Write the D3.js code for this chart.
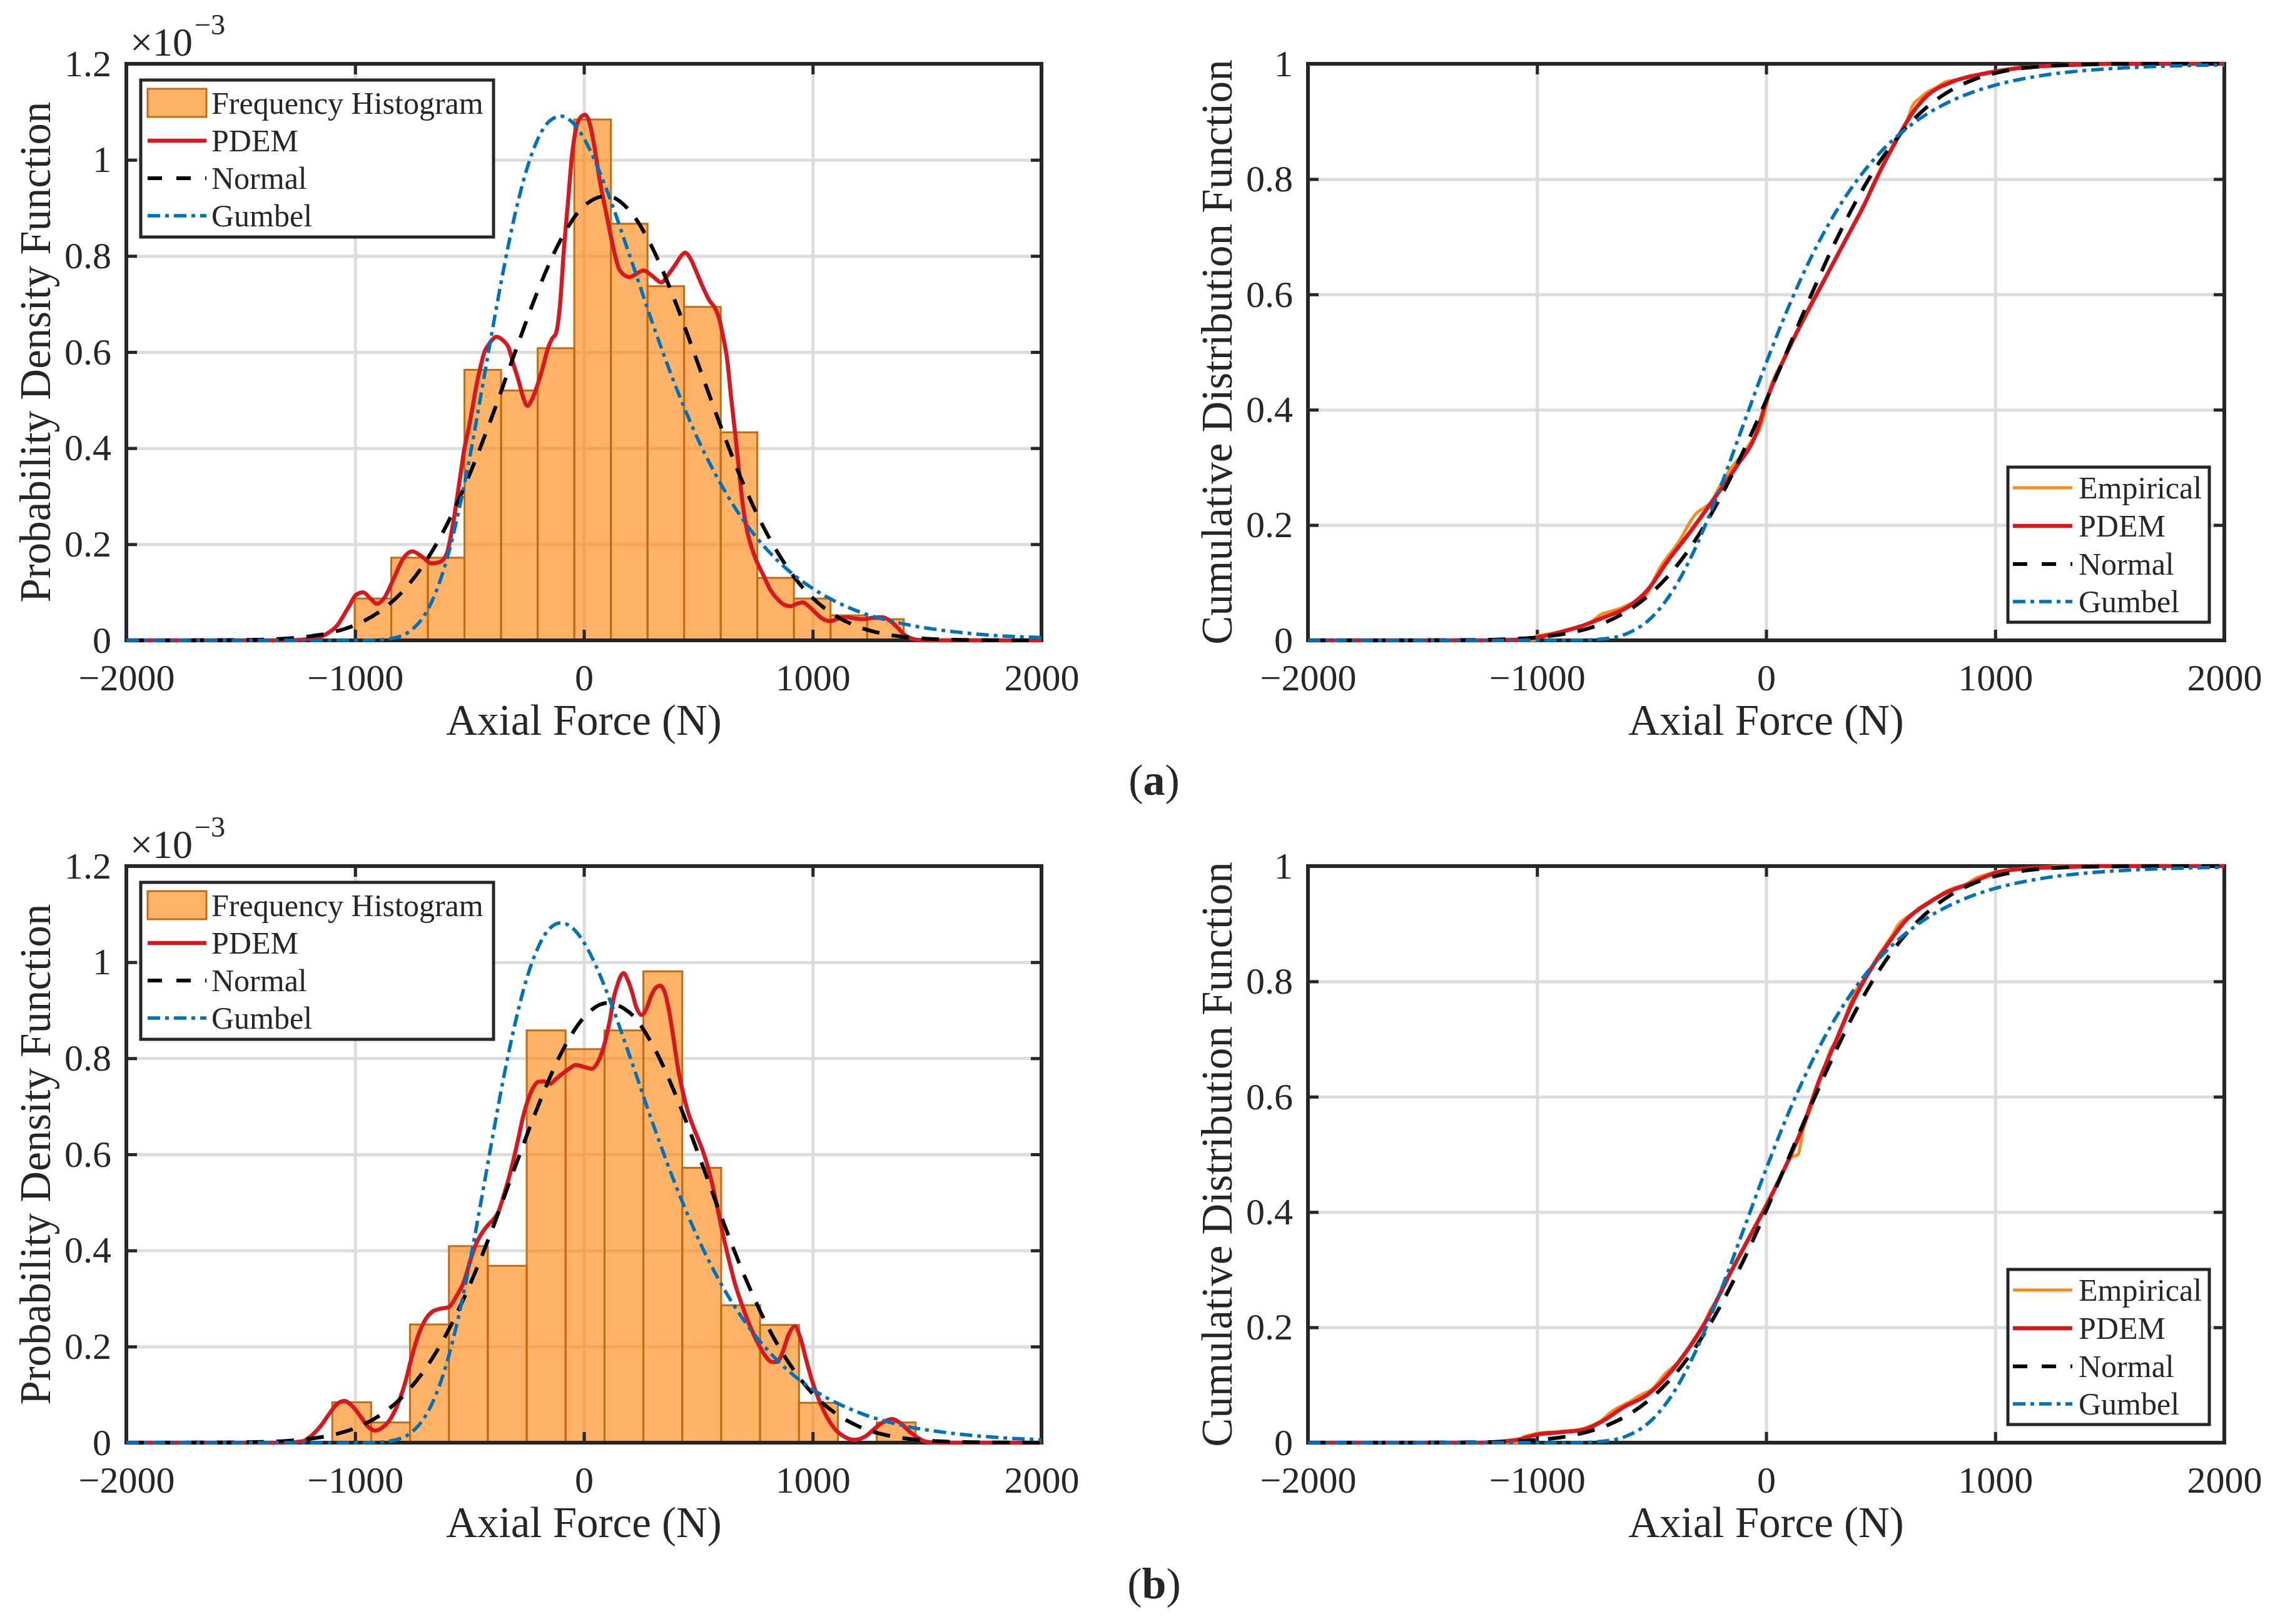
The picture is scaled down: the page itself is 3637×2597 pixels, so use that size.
<!DOCTYPE html>
<html>
<head>
<meta charset="utf-8">
<script src="https://cdn.jsdelivr.net/npm/d3@7"></script>
<style>
  body { margin: 0; background: #fff; }
  svg text { font-family: "Liberation Serif", "Times New Roman", serif; fill: #262626; }
</style>
</head>
<body>
<div class="chart"></div>
<script>
// axis ticks
const xTicks = [-2000, -1000, 0, 1000, 2000];
const pdfTicks = [0, 0.2, 0.4, 0.6, 0.8, 1, 1.2];
const cdfTicks = [0, 0.2, 0.4, 0.6, 0.8, 1];

// ---- (a) histogram, density in 1e-3 units
const histEdgesA = [-1002, -842, -682, -522, -362, -202, -42, 118, 278, 438, 598, 758, 918, 1078, 1238, 1398];
const histDensityA = [0.087, 0.172, 0.172, 0.563, 0.520, 0.608, 1.084, 0.867, 0.737, 0.694, 0.433, 0.130, 0.087, 0.052, 0.044];

const pdemPdfA = [[-2000,0],[-1300,0],[-1180,0.004],[-1130,0.012],[-1080,0.030],[-1030,0.068],[-995,0.095],[-965,0.100],[-935,0.088],[-905,0.076],
  [-870,0.090],[-830,0.130],[-790,0.170],[-750,0.185],[-710,0.175],[-665,0.160],[-630,0.163],[-600,0.180],[-574,0.237],[-539,0.346],
  [-522,0.400],[-504,0.440],[-487,0.484],[-470,0.530],[-452,0.569],[-435,0.600],[-417,0.615],[-400,0.626],[-383,0.632],[-355,0.625],
  [-330,0.610],[-305,0.570],[-285,0.540],[-265,0.505],[-247,0.488],[-228,0.500],[-209,0.523],[-183,0.562],[-157,0.608],[-139,0.628],
  [-122,0.639],[-104,0.700],[-87,0.816],[-70,0.909],[-52,1.009],[-35,1.064],[-17,1.087],[5,1.094],[26,1.075],[43,1.036],[70,0.955],
  [96,0.893],[122,0.832],[157,0.770],[200,0.756],[230,0.763],[261,0.770],[300,0.758],[339,0.745],[370,0.762],[400,0.782],[425,0.800],
  [443,0.807],[465,0.795],[496,0.762],[520,0.735],[548,0.708],[575,0.690],[591,0.670],[609,0.631],[626,0.585],[643,0.508],[661,0.431],
  [678,0.354],[696,0.276],[713,0.229],[730,0.198],[755,0.165],[783,0.137],[815,0.105],[852,0.083],[880,0.073],[904,0.071],[930,0.076],
  [957,0.079],[985,0.070],[1009,0.059],[1040,0.046],[1078,0.040],[1110,0.045],[1148,0.048],[1180,0.046],[1217,0.044],[1260,0.047],
  [1304,0.048],[1340,0.040],[1374,0.025],[1400,0.012],[1426,0.005],[1460,0.001],[1500,0],[2000,0]];

const normalPdfA = [[-2000,0],[-1800,0.0001],[-1600,0.0003],[-1500,0.0007],[-1400,0.0017],[-1300,0.0039],[-1200,0.0083],[-1100,0.0167],
  [-1000,0.0319],[-900,0.0575],[-800,0.098],[-700,0.158],[-600,0.240],[-500,0.345],[-400,0.468],[-300,0.601],[-200,0.729],[-100,0.835],
  [0,0.904],[100,0.925],[200,0.894],[300,0.816],[400,0.704],[500,0.574],[600,0.443],[700,0.322],[800,0.222],[900,0.144],[1000,0.088],
  [1100,0.051],[1200,0.028],[1300,0.0146],[1400,0.0071],[1500,0.0033],[1600,0.0015],[1800,0.0002],[2000,0]];

const gumbelPdfA = [[-2000,0],[-1000,0],[-900,0.0008],[-800,0.009],[-750,0.023],[-700,0.050],[-650,0.097],[-600,0.167],[-550,0.263],
  [-500,0.379],[-450,0.511],[-400,0.646],[-350,0.775],[-300,0.889],[-250,0.980],[-200,1.045],[-150,1.081],[-100,1.091],[-50,1.078],
  [0,1.045],[50,0.996],[100,0.937],[200,0.801],[300,0.660],[400,0.530],[500,0.417],[600,0.324],[700,0.248],[800,0.189],[900,0.143],
  [1000,0.108],[1200,0.060],[1400,0.034],[1600,0.019],[1800,0.010],[2000,0.006]];

const empiricalCdfA = [[-2000,0],[-1010,0],[-1000,0.008],[-960,0.010],[-900,0.015],[-850,0.020],[-800,0.025],[-760,0.033],[-720,0.045],
  [-680,0.050],[-640,0.055],[-600,0.062],[-560,0.068],[-520,0.080],[-490,0.105],[-460,0.128],[-430,0.145],[-400,0.160],[-370,0.178],
  [-340,0.200],[-300,0.222],[-270,0.230],[-240,0.240],[-210,0.262],[-180,0.282],[-150,0.300],[-120,0.315],[-90,0.330],[-60,0.348],
  [-30,0.365],[0,0.405],[20,0.440],[40,0.460],[70,0.482],[100,0.505],[130,0.530],[160,0.552],[190,0.575],[220,0.598],[250,0.620],
  [280,0.645],[310,0.668],[340,0.688],[370,0.712],[400,0.735],[430,0.755],[460,0.785],[490,0.808],[520,0.830],[550,0.855],[580,0.878],
  [610,0.895],[640,0.928],[670,0.940],[700,0.950],[740,0.958],[780,0.968],[830,0.972],[880,0.976],[940,0.982],[1000,0.986],
  [1100,0.993],[1200,0.996],[1300,0.999],[1400,1],[2000,1]];

const pdemCdfA = [[-2000,0],[-1200,0],[-1100,0.001],[-1000,0.005],[-900,0.014],[-812,0.024],[-707,0.040],[-603,0.058],[-516,0.088],
  [-429,0.138],[-341,0.183],[-237,0.240],[-132,0.300],[-45,0.357],[7,0.422],[77,0.487],[164,0.558],[251,0.623],[338,0.688],
  [425,0.753],[495,0.812],[564,0.864],[634,0.912],[704,0.945],[808,0.968],[965,0.984],[1139,0.994],[1401,0.999],[1500,1],[2000,1]];

const normalCdfA = [[-2000,0],[-1400,0.0002],[-1300,0.0005],[-1200,0.0012],[-1100,0.0026],[-1000,0.0052],[-900,0.0099],[-800,0.0181],
  [-700,0.0315],[-600,0.0522],[-500,0.0826],[-400,0.1245],[-300,0.1794],[-200,0.2476],[-100,0.3274],[0,0.4161],[100,0.5094],
  [200,0.6021],[300,0.6894],[400,0.7671],[500,0.8327],[600,0.8849],[700,0.9244],[800,0.9526],[900,0.9717],[1000,0.9839],
  [1100,0.9913],[1200,0.9955],[1300,0.9978],[1400,0.999],[1600,0.9998],[2000,1]];

const gumbelCdfA = [[-2000,0],[-1000,0],[-900,0.00003],[-800,0.0004],[-700,0.0029],[-600,0.0130],[-500,0.0396],[-400,0.0908],
  [-300,0.1679],[-200,0.2655],[-100,0.3734],[0,0.4810],[100,0.5802],[200,0.6673],[300,0.7403],[400,0.7997],[500,0.8470],
  [600,0.8839],[700,0.9124],[800,0.9341],[900,0.9506],[1000,0.9630],[1200,0.9794],[1400,0.9886],[1600,0.9936],[1800,0.9965],[2000,0.9980]];

// ---- (b)
const histEdgesB = [-1100, -930, -760, -590, -420, -250, -80, 90, 260, 430, 600, 770, 940, 1110, 1280, 1450];
const histDensityB = [0.084, 0.042, 0.246, 0.409, 0.368, 0.858, 0.819, 0.858, 0.981, 0.572, 0.286, 0.245, 0.083, 0, 0.042];

const pdemPdfB = [[-2000,0],[-1300,0],[-1230,0.003],[-1183,0.018],[-1150,0.035],[-1113,0.060],[-1080,0.080],[-1047,0.087],[-1010,0.075],
  [-974,0.053],[-945,0.034],[-913,0.025],[-885,0.030],[-852,0.045],[-818,0.075],[-783,0.122],[-757,0.170],[-730,0.215],[-700,0.250],
  [-661,0.273],[-625,0.279],[-591,0.282],[-557,0.305],[-522,0.338],[-496,0.380],[-470,0.415],[-440,0.440],[-417,0.454],[-395,0.465],
  [-374,0.480],[-350,0.515],[-330,0.547],[-287,0.632],[-265,0.680],[-243,0.715],[-220,0.740],[-200,0.751],[-175,0.752],[-148,0.747],
  [-122,0.757],[-96,0.767],[-65,0.778],[-35,0.786],[0,0.782],[35,0.778],[55,0.787],[70,0.801],[90,0.830],[113,0.878],[130,0.925],
  [148,0.955],[162,0.972],[174,0.977],[190,0.965],[209,0.940],[230,0.905],[252,0.890],[275,0.905],[296,0.932],[315,0.947],[334,0.951],
  [355,0.935],[374,0.894],[392,0.840],[409,0.786],[430,0.735],[452,0.693],[480,0.655],[513,0.616],[535,0.585],[557,0.546],[583,0.490],
  [609,0.431],[635,0.378],[661,0.330],[696,0.280],[730,0.238],[765,0.203],[800,0.176],[822,0.168],[843,0.168],[870,0.190],[895,0.225],
  [922,0.242],[948,0.215],[974,0.168],[1000,0.125],[1026,0.091],[1060,0.055],[1096,0.029],[1140,0.012],[1183,0.006],[1230,0.013],
  [1270,0.029],[1310,0.043],[1348,0.049],[1385,0.040],[1426,0.022],[1460,0.010],[1496,0.002],[1550,0],[2000,0]];

const normalPdfB = [[-2000,0],[-1800,0.0001],[-1600,0.0003],[-1500,0.0007],[-1400,0.0017],[-1300,0.0037],[-1200,0.0079],[-1100,0.0159],
  [-1000,0.0302],[-900,0.0544],[-800,0.0924],[-700,0.149],[-600,0.227],[-500,0.327],[-400,0.445],[-300,0.575],[-200,0.701],[-100,0.810],
  [0,0.885],[100,0.915],[200,0.895],[300,0.828],[400,0.725],[500,0.601],[600,0.471],[700,0.349],[800,0.245],[900,0.163],[1000,0.102],
  [1100,0.061],[1200,0.034],[1300,0.018],[1400,0.0092],[1500,0.0043],[1600,0.0020],[1800,0.0003],[2000,0]];

const gumbelPdfB = [[-2000,0],[-1000,0],[-900,0.0008],[-800,0.009],[-750,0.023],[-700,0.050],[-650,0.096],[-600,0.165],[-550,0.258],
  [-500,0.372],[-450,0.501],[-400,0.634],[-350,0.762],[-300,0.874],[-250,0.966],[-200,1.031],[-150,1.070],[-100,1.082],[-50,1.071],
  [0,1.041],[50,0.995],[100,0.938],[200,0.805],[300,0.666],[400,0.537],[500,0.424],[600,0.330],[700,0.254],[800,0.194],[900,0.147],
  [1000,0.111],[1200,0.063],[1400,0.035],[1600,0.020],[1800,0.011],[2000,0.006]];

const empiricalCdfB = [[-2000,0],[-1080,0],[-1060,0.010],[-1030,0.013],[-1000,0.016],[-950,0.018],[-900,0.019],[-850,0.021],[-800,0.024],
  [-760,0.030],[-720,0.038],[-680,0.052],[-650,0.060],[-620,0.066],[-590,0.072],[-560,0.080],[-530,0.086],[-500,0.092],[-470,0.105],
  [-440,0.120],[-410,0.130],[-380,0.142],[-350,0.158],[-320,0.172],[-290,0.190],[-270,0.205],[-250,0.225],[-220,0.245],[-190,0.265],
  [-160,0.290],[-130,0.315],[-100,0.335],[-70,0.360],[-40,0.382],[-10,0.405],[20,0.428],[50,0.452],[80,0.475],[110,0.495],[140,0.500],
  [160,0.540],[190,0.575],[220,0.610],[250,0.645],[280,0.680],[310,0.700],[340,0.730],[370,0.765],[400,0.790],[430,0.805],[460,0.825],
  [490,0.845],[520,0.862],[550,0.880],[580,0.900],[610,0.910],[640,0.918],[670,0.928],[700,0.935],[740,0.945],[780,0.955],[820,0.962],
  [870,0.968],[920,0.980],[960,0.985],[1000,0.990],[1100,0.995],[1200,0.998],[1300,1],[2000,1]];

const pdemCdfB = [[-2000,0],[-1250,0],[-1150,0.002],[-1073,0.006],[-1000,0.014],[-899,0.018],[-794,0.023],[-707,0.039],[-620,0.062],
  [-516,0.084],[-429,0.117],[-341,0.162],[-254,0.217],[-167,0.286],[-80,0.351],[7,0.416],[94,0.487],[164,0.552],[233,0.630],
  [303,0.695],[373,0.760],[443,0.812],[530,0.864],[617,0.909],[704,0.935],[791,0.955],[878,0.968],[1000,0.988],[1139,0.996],
  [1300,0.998],[1450,1],[2000,1]];

const normalCdfB = [[-2000,0],[-1400,0.0002],[-1300,0.0005],[-1200,0.0011],[-1100,0.0023],[-1000,0.0047],[-900,0.0090],[-800,0.0166],
  [-700,0.0292],[-600,0.0487],[-500,0.0777],[-400,0.1177],[-300,0.1706],[-200,0.2370],[-100,0.3152],[0,0.4023],[100,0.4953],
  [200,0.5882],[300,0.6762],[400,0.7560],[500,0.8232],[600,0.8774],[700,0.9186],[800,0.9485],[900,0.9691],[1000,0.9825],
  [1100,0.9905],[1200,0.9951],[1300,0.9976],[1400,0.9989],[1600,0.9998],[2000,1]];

const gumbelCdfB = [[-2000,0],[-1000,0],[-900,0.00003],[-800,0.0004],[-700,0.0029],[-600,0.0129],[-500,0.0390],[-400,0.0893],
  [-300,0.1651],[-200,0.2613],[-100,0.3679],[0,0.4747],[100,0.5741],[200,0.6610],[300,0.7346],[400,0.7947],[500,0.8427],
  [600,0.8802],[700,0.9093],[800,0.9316],[900,0.9486],[1000,0.9614],[1200,0.9784],[1400,0.9880],[1600,0.9933],[1800,0.9963],[2000,0.9979]];

const pdfLegend = ["Frequency Histogram", "PDEM", "Normal", "Gumbel"];
const cdfLegend = ["Empirical", "PDEM", "Normal", "Gumbel"];

// styles
const C_RED = "#d7191f", C_BLUE = "#0072bd", C_ORANGE = "#fa8a1e", C_AX = "#262626";
const lineStyles = {
  pdem:      { stroke: C_RED, width: 6.5, dash: null },
  normal:    { stroke: "#000", width: 6, dash: "28,20" },
  gumbel:    { stroke: C_BLUE, width: 5.5, dash: "20,8,6,8" },
  empirical: { stroke: C_ORANGE, width: 5, dash: null }
};

var svg = d3.select(".chart").append("svg")
  .attr("width", 3637)
  .attr("height", 2597)
  .attr("viewBox", "0 0 3637 2597");
svg.append("rect").attr("width", 3637).attr("height", 2597).attr("fill", "#fff");

function addLine(g, data, x, y, st) {
  var line = d3.line()
    .x((d) => x(d[0]))
    .y((d) => y(d[1]))
    .curve(d3.curveMonotoneX);
  g.append("path")
    .datum(data)
    .attr("fill", "none")
    .attr("stroke", st.stroke)
    .attr("stroke-width", st.width)
    .attr("stroke-dasharray", st.dash)
    .attr("stroke-linejoin", "round")
    .attr("d", line);
}

function drawPanel(p) {
  var w = p.width, h = p.height;
  var g = svg.append("g").attr("transform", `translate(${p.left},${p.top})`);
  var x = d3.scaleLinear().domain([-2000, 2000]).range([0, w]);
  var y = d3.scaleLinear().domain([0, p.ymax]).range([h, 0]);

  // grid
  var grid = g.append("g");
  grid.append("g").attr("transform", `translate(0,${h})`)
    .call(d3.axisBottom(x).tickValues(xTicks).tickSize(-h).tickFormat(""));
  grid.append("g")
    .call(d3.axisLeft(y).tickValues(p.yTicks).tickSize(-w).tickFormat(""));
  grid.selectAll(".domain").remove();
  grid.selectAll("line").attr("stroke", "#dcdcdc").attr("stroke-width", 5);

  // histogram
  if (p.hist) {
    var bins = p.hist.density.map((v, i) => ({ x0: p.hist.edges[i], x1: p.hist.edges[i + 1], v: v }));
    g.append("g").selectAll("rect").data(bins).join("rect")
      .attr("x", (d) => x(d.x0))
      .attr("y", (d) => y(d.v))
      .attr("width", (d) => x(d.x1) - x(d.x0))
      .attr("height", (d) => y(0) - y(d.v))
      .attr("fill", "#ff8000").attr("fill-opacity", 0.6)
      .attr("stroke", "#c46a10").attr("stroke-width", 3);
  }

  // axes: inward ticks on all four sides
  var fmtX = (d) => (d < 0 ? "\u2212" + Math.abs(d) : String(d));
  var ax = g.append("g").attr("color", C_AX);
  ax.append("g").attr("transform", `translate(0,${h})`)
    .call(d3.axisBottom(x).tickValues(xTicks).tickSize(-17).tickPadding(37).tickFormat(fmtX));
  ax.append("g")
    .call(d3.axisTop(x).tickValues(xTicks).tickSize(-17).tickFormat(""));
  ax.append("g")
    .call(d3.axisLeft(y).tickValues(p.yTicks).tickSize(-17).tickPadding(24).tickFormat(d3.format("~g")));
  ax.append("g").attr("transform", `translate(${w},0)`)
    .call(d3.axisRight(y).tickValues(p.yTicks).tickSize(-17).tickFormat(""));
  ax.selectAll(".domain").remove();
  ax.selectAll(".tick line").attr("stroke-width", 5);
  ax.selectAll(".tick text").attr("font-size", 60).attr("fill", C_AX)
    .style("font-family", "'Liberation Serif', serif");
  g.append("rect").attr("width", w).attr("height", h)
    .attr("fill", "none").attr("stroke", C_AX).attr("stroke-width", 6);

  // curves
  p.lines.forEach((l) => addLine(g, l.data, x, y, lineStyles[l.style]));

  // labels
  g.append("text").attr("x", w / 2).attr("y", h + 151)
    .attr("text-anchor", "middle").attr("font-size", 69).text("Axial Force (N)");
  g.append("text")
    .attr("transform", `translate(-122,${h / 2}) rotate(-90)`)
    .attr("text-anchor", "middle").attr("font-size", 69).text(p.ylabel);

  if (p.exponent) {
    var ex = g.append("text").attr("x", 6).attr("y", -13).attr("font-size", 64);
    ex.append("tspan").text("\u00d710");
    ex.append("tspan").attr("dx", 3).attr("dy", -34).attr("font-size", 46).text("\u22123");
  }

  // legend
  var lg = p.legend;
  var lgG = g.append("g").attr("transform", `translate(${lg.x},${lg.y})`);
  lgG.append("rect").attr("width", lg.w).attr("height", lg.h)
    .attr("fill", "#fff").attr("stroke", C_AX).attr("stroke-width", 5);
  lg.items.forEach((it, i) => {
    var cy = lg.rows[i];
    if (it.style === "hist") {
      lgG.append("rect").attr("x", lg.sx0).attr("y", cy - 23)
        .attr("width", lg.sx1 - lg.sx0).attr("height", 45)
        .attr("fill", "#ff8000").attr("fill-opacity", 0.6)
        .attr("stroke", "#c46a10").attr("stroke-width", 3);
    } else {
      var st = lineStyles[it.style];
      lgG.append("line").attr("x1", lg.sx0).attr("x2", lg.sx1)
        .attr("y1", cy).attr("y2", cy)
        .attr("stroke", st.stroke).attr("stroke-width", st.width)
        .attr("stroke-dasharray", it.style === "normal" ? "23,23" : st.dash);
    }
    lgG.append("text").attr("x", lg.tx).attr("y", cy + 17)
      .attr("font-size", 50).attr("fill", "#000").text(it.label);
  });
}

function pdfPanel(top, hist, pdem, normal, gumbel) {
  drawPanel({
    left: 202, top: top, width: 1463, height: 922, ymax: 1.2, yTicks: pdfTicks,
    ylabel: "Probability Density Function", exponent: true,
    hist: hist,
    lines: [{ data: pdem, style: "pdem" }, { data: normal, style: "normal" }, { data: gumbel, style: "gumbel" }],
    legend: {
      x: 23, y: 26, w: 564, h: 251, rows: [37, 97, 157, 217], sx0: 11, sx1: 105, tx: 113,
      items: [{ style: "hist", label: pdfLegend[0] }, { style: "pdem", label: pdfLegend[1] },
              { style: "normal", label: pdfLegend[2] }, { style: "gumbel", label: pdfLegend[3] }]
    }
  });
}

function cdfPanel(top, emp, pdem, normal, gumbel) {
  drawPanel({
    left: 2091, top: top, width: 1465, height: 922, ymax: 1, yTicks: cdfTicks,
    ylabel: "Cumulative Distribution Function", exponent: false,
    hist: null,
    lines: [{ data: emp, style: "empirical" }, { data: pdem, style: "pdem" },
            { data: normal, style: "normal" }, { data: gumbel, style: "gumbel" }],
    legend: {
      x: 1119, y: 645, w: 322, h: 248, rows: [33, 94, 155, 215], sx0: 8, sx1: 103, tx: 113,
      items: [{ style: "empirical", label: cdfLegend[0] }, { style: "pdem", label: cdfLegend[1] },
              { style: "normal", label: cdfLegend[2] }, { style: "gumbel", label: cdfLegend[3] }]
    }
  });
}

pdfPanel(102, { edges: histEdgesA, density: histDensityA }, pdemPdfA, normalPdfA, gumbelPdfA);
cdfPanel(102, empiricalCdfA, pdemCdfA, normalCdfA, gumbelCdfA);
pdfPanel(1385, { edges: histEdgesB, density: histDensityB }, pdemPdfB, normalPdfB, gumbelPdfB);
cdfPanel(1385, empiricalCdfB, pdemCdfB, normalCdfB, gumbelCdfB);

// sub-figure captions
[["a", 1271], ["b", 2556]].forEach((c) => {
  var t = svg.append("text").attr("x", 1845).attr("y", c[1])
    .attr("text-anchor", "middle").attr("font-size", 70).attr("fill", "#000");
  t.append("tspan").text("(");
  t.append("tspan").attr("font-weight", "bold").text(c[0]);
  t.append("tspan").text(")");
});
</script>
</body>
</html>
